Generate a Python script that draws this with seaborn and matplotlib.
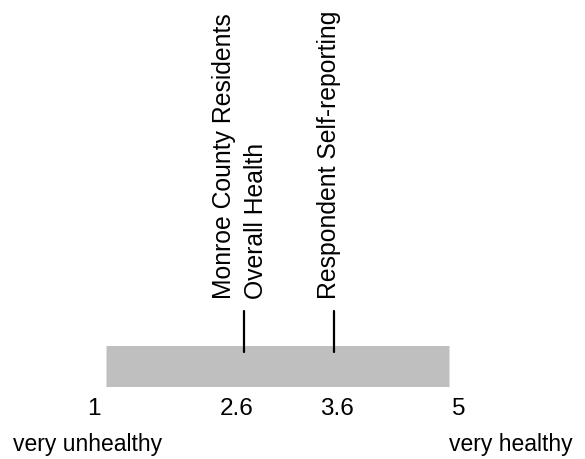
import matplotlib
matplotlib.use("Agg")
import matplotlib.pyplot as plt
import matplotlib.transforms as mtransforms
import seaborn as sns
import pandas as pd

# ---- data ----
scale_ticks = [1, 2.6, 3.6, 5]            # values shown under the scale
scale_tick_labels = ["1", "2.6", "3.6", "5"]
scale_min = 1
scale_max = 5
marker_values = [2.61, 3.66]              # marker positions
marker_labels = ["Monroe County Residents\nOverall Health",
                 "Respondent Self-reporting"]
end_labels = ["very unhealthy", "very healthy"]

# ---- style ----
sns.set_theme(style="white")
plt.rcParams["font.family"] = ["Liberation Sans", "DejaVu Sans"]

W, H, DPI = 585, 460, 100
fig = plt.figure(figsize=(W / DPI, H / DPI), dpi=DPI)
ax = fig.add_axes([0, 0, 1, 1])
px = 343.3 / (scale_max - scale_min)      # pixels per unit
x0 = scale_min - 105.7 / px
ax.set_xlim(x0, x0 + W / px)
ax.set_ylim(H, 0)                          # y in pixels from top
ax.axis("off")

# bar (drawn as a thick line)
bar_df = pd.DataFrame({"x": [scale_min, scale_max], "y": [366.5, 366.5]})
sns.lineplot(data=bar_df, x="x", y="y", ax=ax, color="#bfbfbf",
             linewidth=41 * 72 / DPI, solid_capstyle="butt", legend=False)

# marker lines
seg = pd.DataFrame({
    "x": [v for v in marker_values for _ in range(2)],
    "y": [312, 353] * len(marker_values),
    "m": [i for i in range(len(marker_values)) for _ in range(2)],
})
sns.lineplot(data=seg, x="x", y="y", units="m", estimator=None, sort=False,
             ax=ax, color="black", linewidth=1.6, legend=False)

# marker labels (vertical)
label_dx = [-4, -5]
for v, lab, dx in zip(marker_values, marker_labels, label_dx):
    tr = ax.transData + mtransforms.ScaledTranslation(dx / DPI, 0, fig.dpi_scale_trans)
    ax.text(v, 299, lab, rotation=90, ha="center", va="bottom",
            multialignment="left", fontsize=17.8, color="black",
            transform=tr, linespacing=1.42)

# tick labels under the bar
tick_dx = [-12, -7, 3, 10]
for v, lab, dx in zip(scale_ticks, scale_tick_labels, tick_dx):
    if lab in ("2.6", "3.6"):
        v = marker_values[scale_tick_labels.index(lab) - 1]
    tr = ax.transData + mtransforms.ScaledTranslation(dx / DPI, 0, fig.dpi_scale_trans)
    ax.text(v, 409, lab, ha="center", va="center", fontsize=17.5,
            color="black", transform=tr)

# end labels
ax.text(13 / px + x0, 445, end_labels[0], ha="left", va="center",
        fontsize=16.5, color="black")
ax.text(573 / px + x0, 445, end_labels[1], ha="right", va="center",
        fontsize=16.5, color="black")

fig.savefig("out.png", dpi=DPI)
